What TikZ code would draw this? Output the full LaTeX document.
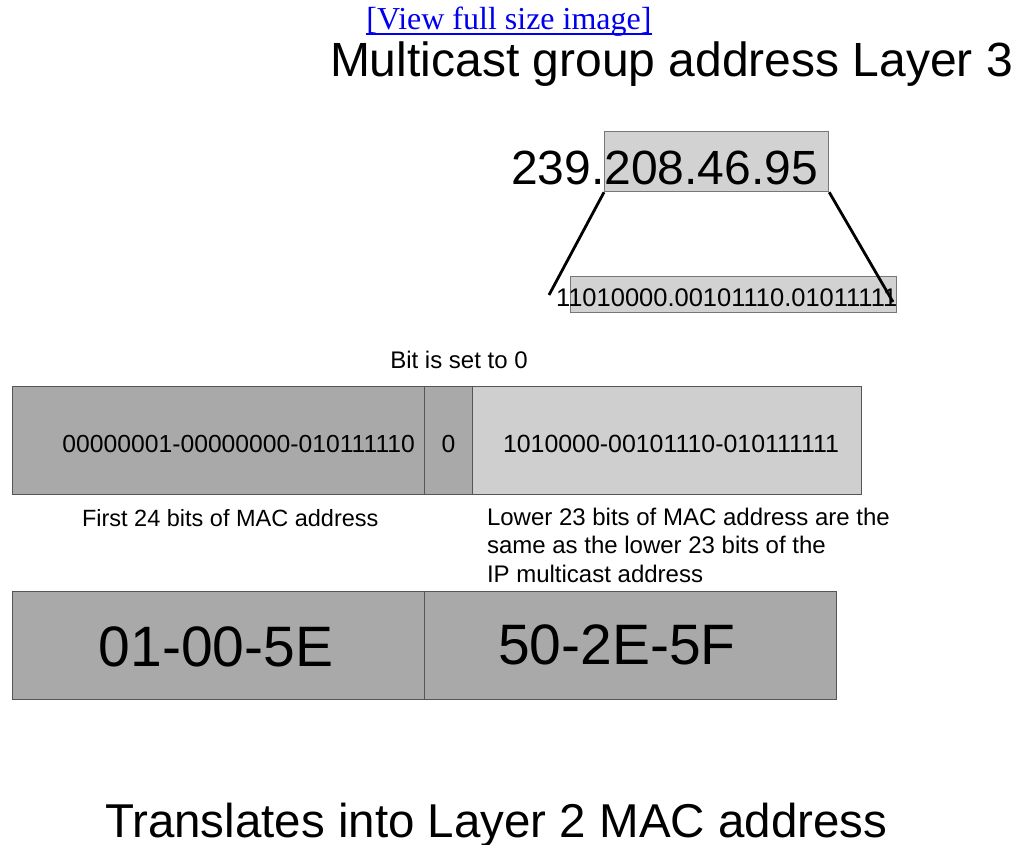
\documentclass[tikz,border=0pt]{standalone}
\usepackage{fontspec}
\setmainfont{Liberation Sans}
\newfontfamily\linkfont{Liberation Serif}
\definecolor{midgray}{HTML}{A9A9A9}
\definecolor{lightgray}{HTML}{CFCFCF}
\definecolor{boxgray}{HTML}{D2D2D2}
\definecolor{edgegray}{HTML}{555555}
\definecolor{linkblue}{HTML}{0000EE}
\begin{document}
\begin{tikzpicture}[x=1pt,y=-1pt,
  txt/.style={inner sep=0pt,outer sep=0pt},
  field/.style={draw=edgegray,line width=1.2pt},
  zoomline/.style={line width=2.8pt,black}]
\useasboundingbox (0,0) rectangle (1015,845);

% link line and heading
\node[txt,anchor=base,text=linkblue,font=\linkfont\fontsize{32}{36}\selectfont]
  (link) at (509,30) {[View full size image]};
\draw[linkblue,line width=1.6pt] ([yshift=-4pt]link.base west) -- ([yshift=-4pt]link.base east);
\node[txt,anchor=base west,font=\fontsize{48}{52}\selectfont]
  (title) at (330,77) {Multicast group address Layer 3};

% IP address with the low three octets highlighted
\node[field,fill=boxgray,draw=edgegray!80,minimum width=224pt,minimum height=60pt,
  inner sep=0pt,anchor=north west] (octets) at (604,131) {};
\node[txt,anchor=base west,font=\fontsize{48}{52}\selectfont]
  (ip) at (511,185) {239.208.46.95};

% low 24 bits of the address
\node[field,fill=boxgray,draw=edgegray!80,minimum width=326pt,minimum height=36pt,
  inner sep=0pt,anchor=north west] (bits) at (570,276) {};
\node[txt,anchor=base west,font=\fontsize{25.5}{28}\selectfont]
  (bitstr) at (556,306) {11010000.00101110.01011111};

\coordinate (zl) at (549,295);
\coordinate (zr) at (893,302);
\draw[zoomline] (octets.south west) -- (zl);
\draw[zoomline] (octets.south east) -- (zr);

% MAC address in binary
\node[txt,anchor=base,font=\fontsize{24}{28}\selectfont] (bitzero) at (459,368) {Bit is set to 0};
\node[field,fill=midgray,minimum width=412pt,minimum height=108pt,inner sep=0pt,
  anchor=north west] (hi) at (12,386) {};
\node[field,fill=midgray,minimum width=48pt,minimum height=108pt,inner sep=0pt,
  anchor=north west] (mid) at (424,386) {};
\node[field,fill=lightgray,minimum width=389pt,minimum height=108pt,inner sep=0pt,
  anchor=north west] (lo) at (472,386) {};
\node[txt,anchor=base east,font=\fontsize{24.7}{28}\selectfont] (hitxt) at (415,452) {00000001-00000000-010111110};
\node[txt,anchor=base,font=\fontsize{24.7}{28}\selectfont] (midtxt) at (mid.center |- hitxt.base) {0};
\node[txt,anchor=base west,font=\fontsize{24.9}{28}\selectfont] (lotxt) at (503,452) {1010000-00101110-010111111};

% captions
\node[txt,anchor=base west,font=\fontsize{23.5}{28}\selectfont] (cap1) at (82,526) {First 24 bits of MAC address};
\node[txt,anchor=north west,align=left,font=\fontsize{24}{28.5}\selectfont] (cap2) at (487,508)
  {Lower 23 bits of MAC address are the\\same as the lower 23 bits of the\\IP multicast address};

% MAC address in hexadecimal
\node[field,fill=midgray,minimum width=412pt,minimum height=108pt,inner sep=0pt,
  anchor=north west] (hexhi) at (12,591) {};
\node[field,fill=midgray,minimum width=412pt,minimum height=108pt,inner sep=0pt,
  anchor=north west] (hexlo) at (424,591) {};
\node[txt,font=\fontsize{57}{60}\selectfont] (hexhitxt) at (216,647) {01-00-5E};
\node[txt,font=\fontsize{57}{60}\selectfont] (hexlotxt) at (617,645) {50-2E-5F};

\node[txt,anchor=base west,font=\fontsize{47.5}{52}\selectfont]
  (foot) at (105,837) {Translates into Layer 2 MAC address};
\end{tikzpicture}
\end{document}
